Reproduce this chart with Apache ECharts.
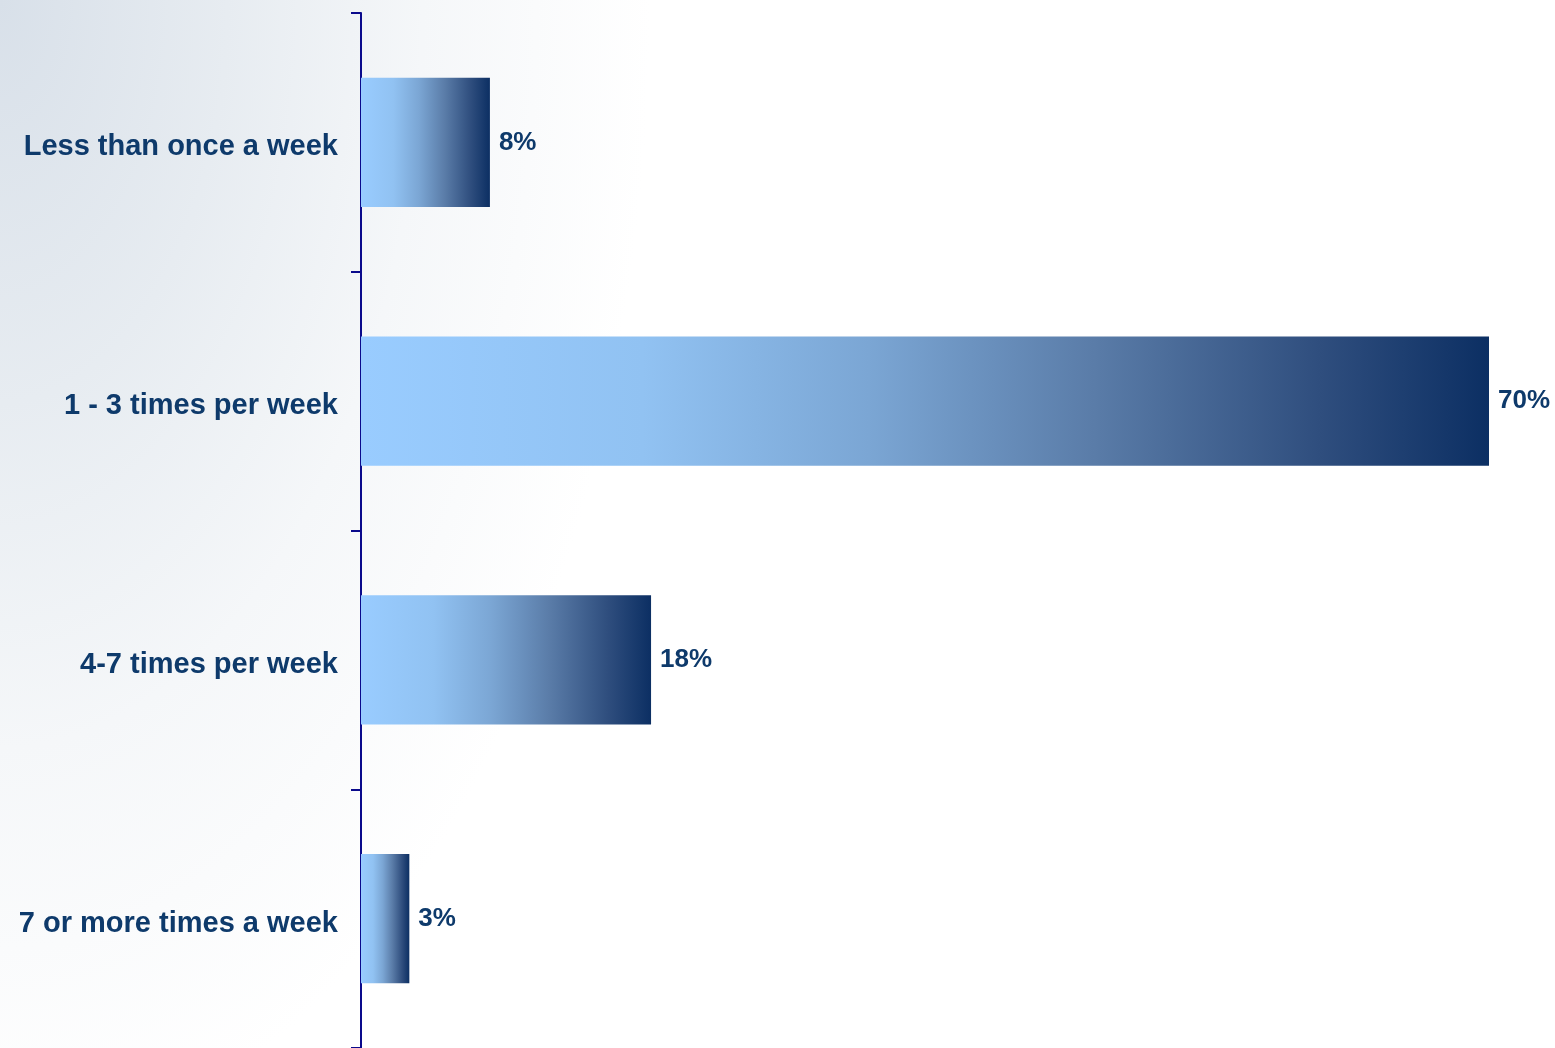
<!DOCTYPE html>
<html>
<head>
<meta charset="utf-8">
<script src="https://cdn.jsdelivr.net/npm/echarts@6/dist/echarts.min.js"></script>
<style>
html,body{margin:0;padding:0;width:1555px;height:1048px;overflow:hidden;}
body{background:radial-gradient(ellipse 650px 1150px at 0px 0px,#d8e0e9 0%,#e7ecf1 35%,#f5f7f9 65%,#ffffff 100%);}
#chart{width:1555px;height:1048px;}
</style>
</head>
<body>
<div id="chart"></div>
<script>
const categories = ["Less than once a week", "1 - 3 times per week", "4-7 times per week", "7 or more times a week"];
const values = [8, 70, 18, 3];

const chart = echarts.init(document.getElementById('chart'), null, {renderer: 'canvas'});
const textColor = '#0e3a6b';
chart.setOption({
  backgroundColor: 'transparent',
  animation: false,
  grid: {left: 361, top: 13, width: 1128, height: 1036, containLabel: false},
  xAxis: {
    type: 'value', min: 0, max: 70, show: false
  },
  yAxis: {
    type: 'category',
    data: categories,
    inverse: true,
    axisLine: {show: true, lineStyle: {color: '#0a0a8c', width: 2}},
    axisTick: {show: true, length: 10, lineStyle: {color: '#0a0a8c', width: 2}},
    axisLabel: {
      margin: 23,
      formatter: function (v) { return '{a|' + v + '}'; },
      rich: {
        a: {
          color: textColor, fontFamily: 'Liberation Sans, Arial, sans-serif',
          fontWeight: 'bold', fontSize: 29, padding: [10, 0, 0, 0]
        }
      }
    },
    splitLine: {show: false}
  },
  series: [{
    type: 'bar',
    data: values,
    barWidth: '50%',
    itemStyle: {
      color: {
        type: 'linear', x: 0, y: 0, x2: 1, y2: 0,
        colorStops: [
          {offset: 0, color: '#99ccff'},
          {offset: 0.25, color: '#91c2f2'},
          {offset: 0.45, color: '#7ba6d4'},
          {offset: 0.65, color: '#5a7ca8'},
          {offset: 0.85, color: '#2f4e7e'},
          {offset: 1, color: '#0c2f63'}
        ]
      }
    },
    label: {
      show: true, position: 'right', distance: 9,
      formatter: '{c}%', color: textColor,
      fontFamily: 'Liberation Sans, Arial, sans-serif', fontWeight: 'bold', fontSize: 26
    }
  }]
});
</script>
</body>
</html>
